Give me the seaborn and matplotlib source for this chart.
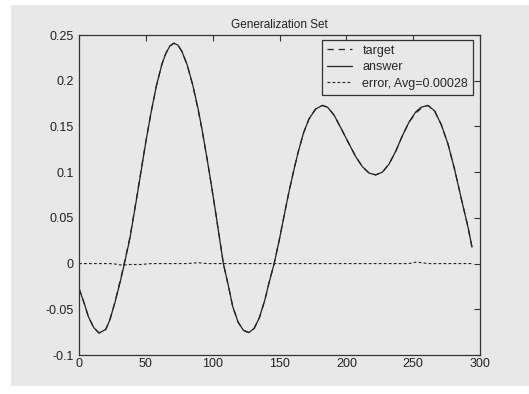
import matplotlib
matplotlib.use("Agg")
import matplotlib.pyplot as plt
from matplotlib.patches import Rectangle
import seaborn as sns
import pandas as pd

# ---- data ----
x_vals = [0, 4, 7, 11, 15, 20, 23, 27, 31, 34, 38, 43, 47, 50, 54, 58, 62, 65,
          68, 71, 74, 77, 81, 85, 89, 92, 96, 99, 102, 105, 108, 112, 115,
          119, 123, 127, 131, 135, 139, 142, 146, 150, 153, 157, 161, 164,
          168, 172, 177, 182, 186, 191, 196, 202, 207, 212, 217, 222, 227,
          232, 237, 242, 247, 252, 256, 261, 266, 271, 276, 281, 286, 291, 294]
answer = [-0.027, -0.044, -0.058, -0.070, -0.076, -0.072, -0.062, -0.042,
          -0.019, 0.000, 0.027, 0.070, 0.106, 0.133, 0.166, 0.195, 0.218,
          0.230, 0.238, 0.241, 0.239, 0.232, 0.217, 0.196, 0.170, 0.147,
          0.113, 0.086, 0.058, 0.029, 0.000, -0.026, -0.047, -0.064, -0.073,
          -0.0755, -0.071, -0.059, -0.040, -0.022, 0.000, 0.027, 0.049,
          0.078, 0.104, 0.122, 0.143, 0.158, 0.169, 0.173, 0.171, 0.162,
          0.148, 0.131, 0.117, 0.106, 0.099, 0.097, 0.100, 0.109, 0.123,
          0.140, 0.155, 0.166, 0.171, 0.173, 0.167, 0.152, 0.131, 0.103,
          0.071, 0.040, 0.018]
error = [0.0, 0.0, 0.0, 0.0, 0.0, 0.0, 0.0, -0.0005, -0.0015, -0.0015, -0.001,
         -0.001, -0.001, -0.0005, 0.0, 0.0, 0.0, 0.0, 0.0, 0.0, 0.0, 0.0, 0.0,
         0.0005, 0.001, 0.0005, 0.0, 0.0, 0.0, 0.0, 0.0, 0.0, 0.0, 0.0, 0.0,
         0.0, 0.0, 0.0, 0.0, 0.0, 0.0, 0.0, 0.0, 0.0, 0.0, 0.0, 0.0, 0.0, 0.0,
         0.0, 0.0, 0.0, 0.0, 0.0, 0.0, 0.0, 0.0, 0.0, 0.0, 0.0, 0.0, 0.0, 0.0,
         0.0015, 0.001, 0.0, 0.0, 0.0, 0.0, 0.0, 0.0, 0.0, 0.0]
target = [a - e for a, e in zip(answer, error)]

title = "Generalization Set"
labels = ["target", "answer", "error, Avg=0.00028"]
x_ticks = [0, 50, 100, 150, 200, 250, 300]
y_ticks = [-0.1, -0.05, 0, 0.05, 0.1, 0.15, 0.2, 0.25]
y_ticklabels = ["-0.1", "-0.05", "0", "0.05", "0.1", "0.15", "0.2", "0.25"]

df = pd.DataFrame({"x": x_vals, "target": target, "answer": answer, "error": error})

sns.set_style("white")
plt.rcParams["font.family"] = ["Liberation Sans", "DejaVu Sans"]
plt.rcParams["font.size"] = 9

W, H = 529, 394
BG = "#e8e8e8"
fig = plt.figure(figsize=(W / 100, H / 100), dpi=100, facecolor="white")
fig.patches.append(Rectangle((11 / W, 8 / H), 518 / W, 381 / H,
                             transform=fig.transFigure, facecolor=BG,
                             edgecolor="none", zorder=-10))

ax = fig.add_axes([79 / W, 1 - 355 / H, 401 / W, 320 / H])
ax.set_zorder(5)
ax.set_facecolor(BG)

lc = "#222222"
sns.lineplot(data=df, x="x", y="target", ax=ax, color=lc, linestyle=(0, (5, 4)),
             linewidth=0.9, label=labels[0])
sns.lineplot(data=df, x="x", y="answer", ax=ax, color=lc, linestyle="-",
             linewidth=0.9, label=labels[1])
sns.lineplot(data=df, x="x", y="error", ax=ax, color=lc, linestyle=(0, (2.5, 2)),
             linewidth=0.8, label=labels[2])

ax.set_xlim(0, 300)
ax.set_ylim(-0.1, 0.25)
ax.set_xticks(x_ticks)
ax.set_xticklabels([str(t) for t in x_ticks])
ax.set_yticks(y_ticks)
ax.set_yticklabels(y_ticklabels)
ax.set_xlabel("")
ax.set_ylabel("")
ax.set_title(title, fontsize=8.5, pad=5, color="#222222")

for s in ax.spines.values():
    s.set_visible(True)
    s.set_color("#333333")
    s.set_linewidth(0.9)
ax.tick_params(direction="in", length=4, width=0.8, colors="#333333",
               labelcolor="#222222", top=True, right=True, labelsize=9)
ax.tick_params(axis="x", pad=2)
ax.tick_params(axis="y", pad=4)

leg = ax.legend(loc="upper right", bbox_to_anchor=(0.983, 0.985),
                borderaxespad=0, frameon=True, fancybox=False,
                handlelength=2.0, handletextpad=0.8, labelspacing=0.35,
                borderpad=0.4, fontsize=9)
leg.get_frame().set_edgecolor("#333333")
leg.get_frame().set_facecolor(BG)
leg.get_frame().set_alpha(1)
leg.get_frame().set_linewidth(0.9)

fig.savefig("out.png", dpi=100, facecolor="white")
